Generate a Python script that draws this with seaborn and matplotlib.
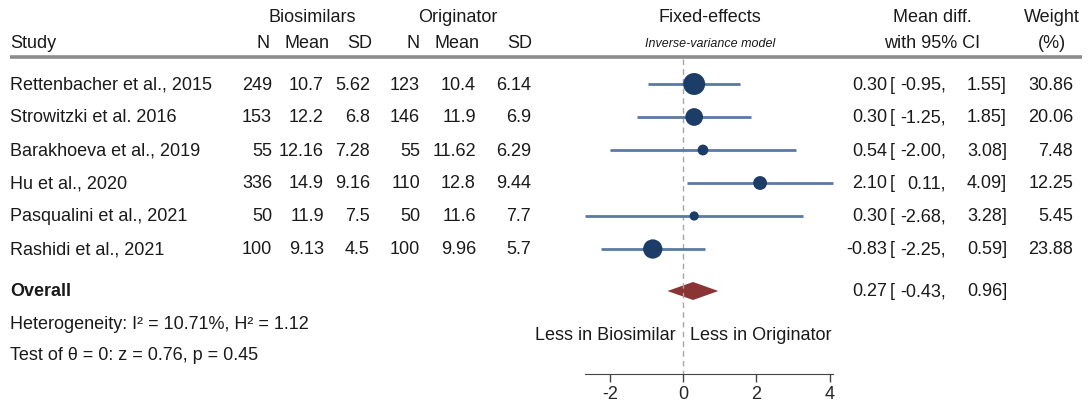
# ==============================================
# Forest plot: biosimilars vs originator (fixed-effects)
# ==============================================

import pandas as pd
import matplotlib
matplotlib.use("Agg")
import matplotlib.pyplot as plt
import matplotlib.transforms as mtransforms
import seaborn as sns

# ==============================================
# 1: Data
# ==============================================

studies = ["Rettenbacher et al., 2015", "Strowitzki et al. 2016", "Barakhoeva et al., 2019",
           "Hu et al., 2020", "Pasqualini et al., 2021", "Rashidi et al., 2021"]
bio_n = ["249", "153", "55", "336", "50", "100"]
bio_mean = ["10.7", "12.2", "12.16", "14.9", "11.9", "9.13"]
bio_sd = ["5.62", "6.8", "7.28", "9.16", "7.5", "4.5"]
orig_n = ["123", "146", "55", "110", "50", "100"]
orig_mean = ["10.4", "11.9", "11.62", "12.8", "11.6", "9.96"]
orig_sd = ["6.14", "6.9", "6.29", "9.44", "7.7", "5.7"]
mean_diff = [0.30, 0.30, 0.54, 2.10, 0.30, -0.83]
ci_low = [-0.95, -1.25, -2.00, 0.11, -2.68, -2.25]
ci_high = [1.55, 1.85, 3.08, 4.09, 3.28, 0.59]
weights = [30.86, 20.06, 7.48, 12.25, 5.45, 23.88]

overall_est = 0.27
overall_low = -0.43
overall_high = 0.96

x_ticks = [-2, 0, 2, 4]

df = pd.DataFrame({"study": studies, "est": mean_diff, "lo": ci_low,
                   "hi": ci_high, "weight": weights})
df["row"] = range(len(df))

# ==============================================
# 2: Layout helpers
# ==============================================

W, H = 1089, 406
ROW0, STEP = 85, 33  # pixel y of first row, row spacing


def yrow(py):
    # pixel y from top -> row units
    return (py - ROW0) / STEP


sns.set_style("white")
plt.rcParams["font.family"] = ["Liberation Sans", "DejaVu Sans"]

fig = plt.figure(figsize=(W / 100, H / 100), dpi=100)
x_min, x_max = -2.68, 4.09
ax = fig.add_axes([585 / W, 0, (833 - 585) / W, 1])
ax.set_xlim(x_min, x_max)
ax.set_ylim(yrow(H), yrow(0))
ax.patch.set_alpha(0)

tr = mtransforms.blended_transform_factory(fig.transFigure, ax.transData)
fs = 13
txt_col = "#1a1a1a"


def put(px, py_row, s, ha="right", **kw):
    kw.setdefault("fontsize", fs)
    kw.setdefault("color", txt_col)
    ax.text(px / W, py_row, s, transform=tr, ha=ha, va="center", **kw)


# ==============================================
# 3: Header
# ==============================================

h1, h2 = yrow(18), yrow(44)
put(312, h1, "Biosimilars", ha="center")
put(458, h1, "Originator", ha="center")
put(710, h1, "Fixed-effects", ha="center")
put(932, h1, "Mean diff.", ha="center")
put(1052, h1, "Weight", ha="center")
put(10, h2, "Study", ha="left")
for px, s in [(270, "N"), (330, "Mean"), (372, "SD"), (420, "N"), (480, "Mean"), (532, "SD")]:
    put(px, h2, s)
put(710, h2, "Inverse-variance model", ha="center", fontsize=9, style="italic")
put(932, h2, "with 95% CI", ha="center")
put(1052, h2, "(%)", ha="center")

ax.plot([10 / W, 1082 / W], [yrow(58), yrow(58)], transform=tr, color="#8c8c8c",
        lw=2.6, clip_on=False, solid_capstyle="butt")

# ==============================================
# 4: Table body
# ==============================================

for i in range(len(df)):
    put(10, i, studies[i], ha="left")
    put(272, i, bio_n[i])
    put(324, i, bio_mean[i])
    put(370, i, bio_sd[i])
    put(420, i, orig_n[i])
    put(476, i, orig_mean[i])
    put(531, i, orig_sd[i])
    put(887, i, f"{mean_diff[i]:.2f}")
    put(890, i, "[", ha="left")
    put(946, i, f"{ci_low[i]:.2f},")
    put(1007, i, f"{ci_high[i]:.2f}]")
    put(1073, i, f"{weights[i]:.2f}")

r_over = yrow(292)
put(10, r_over, "Overall", ha="left", fontweight="bold")
put(887, r_over, f"{overall_est:.2f}")
put(890, r_over, "[", ha="left")
put(946, r_over, f"{overall_low:.2f},")
put(1007, r_over, f"{overall_high:.2f}]")
put(10, yrow(325), "Heterogeneity: I² = 10.71%, H² = 1.12", ha="left")
put(10, yrow(356), "Test of θ = 0: z = 0.76, p = 0.45", ha="left")

put(676, yrow(335), "Less in Biosimilar")
put(690, yrow(335), "Less in Originator", ha="left")

# ==============================================
# 5: Forest marks
# ==============================================

ax.vlines(0, yrow(60), yrow(375), color="#a6a6a6", lw=1, linestyles=(0, (4, 3)))
ax.hlines(df["row"], df["lo"], df["hi"], color="#5b7aa3", lw=2, clip_on=False)
sns.scatterplot(data=df, x="est", y="row", size="weight",
                sizes=(min(weights) * 8.1, max(weights) * 8.1),
                size_norm=(min(weights), max(weights)),
                color="#1d3d69", edgecolor="none", legend=False, ax=ax, zorder=3)

hd = (9 / STEP)
ax.fill([overall_low, overall_est, overall_high, overall_est],
        [r_over, r_over - hd, r_over, r_over + hd], color="#8b3434", lw=0)

# ==============================================
# 6: Axis
# ==============================================

ax.set_xlabel("")
ax.set_ylabel("")
ax.set_yticks([])
for side in ["left", "right", "top"]:
    ax.spines[side].set_visible(False)
ax.spines["bottom"].set_position(("data", yrow(375)))
ax.spines["bottom"].set_bounds(x_min, x_max)
ax.spines["bottom"].set_color("#444444")
ax.set_xticks(x_ticks)
ax.set_xticklabels([str(t) for t in x_ticks])
ax.tick_params(axis="x", direction="out", length=6, width=1, color="#444444",
               labelsize=fs, pad=2, bottom=True)

fig.savefig("out.png", dpi=100)
